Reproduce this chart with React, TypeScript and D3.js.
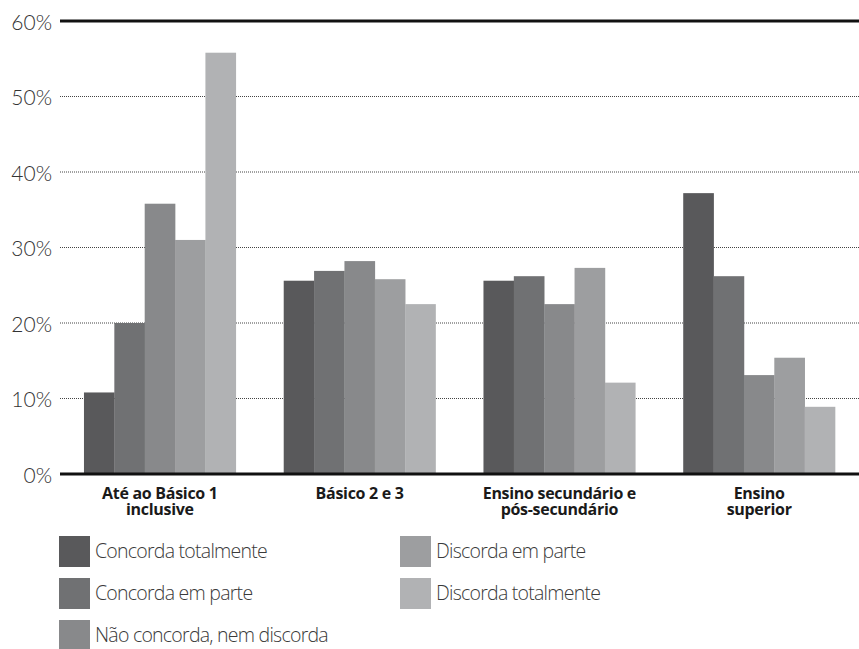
import React from "react";
import * as d3 from "d3";

const categories = [
  ["Até ao Básico 1", "inclusive"],
  ["Básico 2 e 3"],
  ["Ensino secundário e", "pós-secundário"],
  ["Ensino", "superior"],
];
const seriesNames = [
  "Concorda totalmente",
  "Concorda em parte",
  "Não concorda, nem discorda",
  "Discorda em parte",
  "Discorda totalmente",
];
const seriesColors = ["#59595b", "#707173", "#88898b", "#9d9ea0", "#b1b2b4"];
const concordaTotalmente = [10.8, 25.6, 25.6, 37.2];
const concordaEmParte = [20.0, 26.9, 26.2, 26.2];
const naoConcordaNemDiscorda = [35.8, 28.2, 22.5, 13.1];
const discordaEmParte = [31.0, 25.8, 27.3, 15.4];
const discordaTotalmente = [55.8, 22.5, 12.1, 8.9];
const yTicks = [0, 10, 20, 30, 40, 50, 60];

const W = 859;
const H = 649;

export default function App() {
  const series = [
    concordaTotalmente,
    concordaEmParte,
    naoConcordaNemDiscorda,
    discordaEmParte,
    discordaTotalmente,
  ];
  const left = 60;
  const right = 859;
  const y = d3.scaleLinear().domain([0, 60]).range([474, 21]);
  const x0 = d3
    .scaleBand<number>()
    .domain(d3.range(categories.length))
    .range([left, right])
    .paddingInner(0.24)
    .paddingOuter(0.12);
  const x1 = d3
    .scaleBand<number>()
    .domain(d3.range(series.length))
    .range([0, x0.bandwidth()]);

  const legendPos = [
    [59, 536],
    [59, 578],
    [59, 620],
    [400, 536],
    [400, 578],
  ];

  return (
    <svg
      width={W}
      height={H}
      style={{ position: "absolute", left: 0, top: 0, background: "#fff" }}
    >
      {yTicks.map((t) => (
        <g key={t}>
          {t !== 0 && t !== 60 && (
            <line
              x1={left}
              x2={right}
              y1={y(t)}
              y2={y(t)}
              stroke="#444"
              strokeWidth={1}
              strokeDasharray="1 1"
            />
          )}
          <text
            x={52}
            y={y(t)}
            textAnchor="end"
            dominantBaseline="central"
            fontFamily="Lato, 'Open Sans', sans-serif"
            fontWeight={300}
            fontSize={21}
            fill="#333"
          >
            {t}%
          </text>
        </g>
      ))}
      {series.map((vals, si) =>
        vals.map((v, ci) => (
          <rect
            key={`${si}-${ci}`}
            x={(x0(ci) as number) + (x1(si) as number)}
            y={y(v)}
            width={x1.bandwidth() + 0.3}
            height={y(0) - y(v)}
            fill={seriesColors[si]}
          />
        ))
      )}
      <line x1={left} x2={right} y1={y(60)} y2={y(60)} stroke="#111" strokeWidth={3} />
      <line x1={left} x2={right} y1={y(0)} y2={y(0)} stroke="#111" strokeWidth={3} />
      {categories.map((lines, ci) =>
        lines.map((l, li) => (
          <text
            key={`${ci}-${li}`}
            x={(x0(ci) as number) + x0.bandwidth() / 2}
            y={499 + li * 16}
            textAnchor="middle"
            fontFamily="'Open Sans', sans-serif"
            fontWeight={700}
            fontSize={16}
            letterSpacing={-0.3}
            fill="#1a1a1a"
          >
            {l}
          </text>
        ))
      )}
      {seriesNames.map((name, si) => (
        <g key={name} transform={`translate(${legendPos[si][0]},${legendPos[si][1]})`}>
          <rect width={31} height={31} fill={seriesColors[si]} />
          <text
            x={36}
            y={22}
            fontFamily="'Open Sans', sans-serif"
            fontWeight={300}
            fontSize={19.5}
            letterSpacing={-0.75}
            fill="#3a3a3a"
          >
            {name}
          </text>
        </g>
      ))}
    </svg>
  );
}
